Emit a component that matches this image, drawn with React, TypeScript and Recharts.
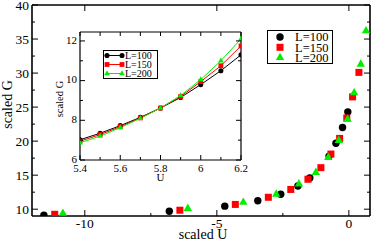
import React from 'react';
import { ScatterChart, Scatter, XAxis, YAxis, LineChart, Line, Legend } from 'recharts';

// ---------- data ----------
const seriesNames = ['L=100', 'L=150', 'L=200'];
const seriesColors = ['#000000', '#ff0000', '#00ee00'];

const u100 = [-11.55, -6.8, -4.7, -3.45, -2.58, -1.93, -1.48, -0.75, -0.49, -0.24, -0.04];
const g100 = [9.1, 9.7, 10.45, 11.25, 12.2, 13.4, 14.6, 17.8, 19.7, 22.0, 24.3];
const u150 = [-11.14, -6.4, -4.3, -3.05, -2.2, -1.55, -1.06, -0.68, -0.35, -0.08, 0.14, 0.38];
const g150 = [9.25, 9.85, 10.7, 11.75, 12.9, 14.4, 16.1, 18.1, 20.4, 23.4, 26.5, 30.1];
const u200 = [-10.83, -6.1, -4.0, -2.75, -1.89, -1.25, -0.78, -0.38, -0.05, 0.2, 0.45, 0.65];
const g200 = [9.4, 10.1, 11.0, 12.2, 13.7, 15.4, 17.6, 20.1, 23.2, 27.1, 31.3, 36.2];

const mainXTicks = [-10, -7.5, -5, -2.5, 0];
const mainXTopTicks = [-10, -5, 0];
const mainYTicks = [10, 12.5, 15, 17.5, 20, 22.5, 25, 27.5, 30, 32.5, 35, 37.5, 40];

const insetU = [5.4, 5.5, 5.6, 5.7, 5.8, 5.9, 6.0, 6.1, 6.2];
const insetL100 = [7.02, 7.35, 7.73, 8.15, 8.62, 9.15, 9.8, 10.5, 11.3];
const insetL150 = [6.95, 7.28, 7.68, 8.12, 8.62, 9.2, 9.95, 10.75, 11.75];
const insetL200 = [6.87, 7.2, 7.63, 8.1, 8.62, 9.25, 10.05, 11.0, 12.1];

const insetXTicks = [5.4, 5.5, 5.6, 5.7, 5.8, 5.9, 6.0, 6.1, 6.2];
const insetXLabels = ['5.4', '5.6', '5.8', '6', '6.2'];
const insetYTicks = [6, 7, 8, 9, 10, 11, 12];
const insetYLabels = [6, 8, 10, 12];

// ---------- built tables ----------
const mainSeries = [
  u100.map((u, i) => ({ u, g: g100[i] })),
  u150.map((u, i) => ({ u, g: g150[i] })),
  u200.map((u, i) => ({ u, g: g200[i] })),
];
const insetData = insetU.map((u, i) => ({ u, a: insetL100[i], b: insetL150[i], c: insetL200[i] }));

const FONT = 'Liberation Serif, Times New Roman, serif';

// ---------- markers ----------
const Marker = ({ kind, cx, cy, s }: { kind: number; cx: number; cy: number; s: number }) => {
  const color = seriesColors[kind];
  if (kind === 0) return <circle cx={cx} cy={cy} r={s * 0.53} fill={color} />;
  if (kind === 1) return <rect x={cx - s / 2} y={cy - s / 2} width={s} height={s} fill={color} />;
  const w = s * 1.2;
  const h = s * 1.05;
  return (
    <polygon
      points={`${cx},${cy - (h * 2) / 3} ${cx - w / 2},${cy + h / 3} ${cx + w / 2},${cy + h / 3}`}
      fill={color}
    />
  );
};

// ---------- ticks ----------
const isMult = (v: number, m: number) => Math.abs(v / m - Math.round(v / m)) < 1e-6;

const MainBottomTick = (p: any) => {
  const { x, y, payload } = p;
  const v = payload.value;
  const major = isMult(v, 5);
  return (
    <g>
      <line x1={x} x2={x} y1={y} y2={y - (major ? 6 : 3)} stroke="#000" strokeWidth={1} />
      {major && (
        <text x={x} y={y + 11.5} textAnchor="middle" fontSize={13.5} fontFamily={FONT} fill="#000">
          {String(v)}
        </text>
      )}
    </g>
  );
};
const MainTopTick = (p: any) => {
  const { x, y } = p;
  return <line x1={x} x2={x} y1={y} y2={y + 6} stroke="#000" strokeWidth={1} />;
};
const MainLeftTick = (p: any) => {
  const { x, y, payload } = p;
  const v = payload.value;
  const major = isMult(v, 5);
  return (
    <g>
      <line x1={x} x2={x + (major ? 6 : 3)} y1={y} y2={y} stroke="#000" strokeWidth={1} />
      {major && (
        <text x={x - 3} y={y + 0.5} dy="0.35em" textAnchor="end" fontSize={13.5} fontFamily={FONT} fill="#000">
          {String(v)}
        </text>
      )}
    </g>
  );
};
const MainRightTick = (p: any) => {
  const { x, y, payload } = p;
  const major = isMult(payload.value, 5);
  return <line x1={x} x2={x - (major ? 6 : 3)} y1={y} y2={y} stroke="#000" strokeWidth={1} />;
};

const InsetBottomTick = (p: any) => {
  const { x, y, payload } = p;
  const v = payload.value;
  const idx = insetXTicks.findIndex((t) => Math.abs(t - v) < 1e-6);
  const major = idx % 2 === 0;
  return (
    <g>
      <line x1={x} x2={x} y1={y} y2={y - (major ? 5 : 3)} stroke="#000" strokeWidth={1} />
      {major && (
        <text x={x} y={y + 12} textAnchor="middle" fontSize={11} fontFamily={FONT} fill="#000">
          {insetXLabels[idx / 2]}
        </text>
      )}
    </g>
  );
};
const InsetTopTick = (p: any) => {
  const { x, y } = p;
  return <line x1={x} x2={x} y1={y} y2={y + 4} stroke="#000" strokeWidth={1} />;
};
const InsetLeftTick = (p: any) => {
  const { x, y, payload } = p;
  const v = payload.value;
  const major = insetYLabels.includes(v);
  return (
    <g>
      <line x1={x} x2={x + (major ? 5 : 3)} y1={y} y2={y} stroke="#000" strokeWidth={1} />
      {major && (
        <text x={x - 3} y={y - 1} dy="0.35em" textAnchor="end" fontSize={11} fontFamily={FONT} fill="#000">
          {String(v)}
        </text>
      )}
    </g>
  );
};
const InsetRightTick = (p: any) => {
  const { x, y, payload } = p;
  const major = insetYLabels.includes(payload.value);
  return <line x1={x} x2={x - (major ? 5 : 3)} y1={y} y2={y} stroke="#000" strokeWidth={1} />;
};

// ---------- legends ----------
const MainLegend = (props: any) => {
  const payload = props.payload || [];
  return (
    <svg width={66} height={34} style={{ display: 'block', overflow: 'visible' }}>
      <rect x={0.5} y={0.5} width={65} height={33} fill="#fff" stroke="#000" strokeWidth={1} />
      {payload.map((e: any, i: number) => {
        const k = seriesNames.indexOf(e.value);
        const cy = 7 + k * 10.3;
        return (
          <g key={i}>
            <Marker kind={k} cx={13} cy={cy} s={7} />
            <text x={28} y={cy} dy="0.35em" fontSize={12.5} fontFamily={FONT} fill="#000">
              {e.value}
            </text>
          </g>
        );
      })}
    </svg>
  );
};

const InsetLegend = (props: any) => {
  const payload = props.payload || [];
  return (
    <svg width={55} height={29} style={{ display: 'block', overflow: 'visible' }}>
      <rect x={0.5} y={0.5} width={54} height={28} fill="#fff" stroke="#000" strokeWidth={1} />
      {payload.map((e: any, i: number) => {
        const k = seriesNames.indexOf(e.value);
        const cy = 5.5 + k * 9;
        return (
          <g key={i}>
            <line x1={4} x2={19} y1={cy} y2={cy} stroke={seriesColors[k]} strokeWidth={1} />
            <Marker kind={k} cx={4} cy={cy} s={4.8} />
            <Marker kind={k} cx={19} cy={cy} s={4.8} />
            <text x={22} y={cy} dy="0.35em" fontSize={10} fontFamily={FONT} fill="#000">
              {e.value}
            </text>
          </g>
        );
      })}
    </svg>
  );
};

// ---------- labels ----------
const MainYLabel = (p: any) => {
  const vb = p.viewBox || { x: 0, y: 5, width: 32, height: 211 };
  const cx = 12;
  const cy = vb.y + vb.height / 2 - 6;
  return (
    <text x={cx} y={cy} transform={`rotate(-90 ${cx} ${cy})`} textAnchor="middle" fontSize={14} fontFamily={FONT} fill="#000">
      scaled G
    </text>
  );
};
const MainXLabel = (p: any) => {
  const vb = p.viewBox || { x: 32, y: 216, width: 338, height: 24 };
  return (
    <text x={vb.x + vb.width / 2 + 2} y={238.5} textAnchor="middle" fontSize={14} fontFamily={FONT} fill="#000">
      scaled U
    </text>
  );
};
const InsetYLabel = (p: any) => {
  const vb = p.viewBox || { x: 0, y: 32, width: 80, height: 128 };
  const cx = 63;
  const cy = vb.y + vb.height / 2 + 3;
  return (
    <text x={cx} y={cy} transform={`rotate(-90 ${cx} ${cy})`} textAnchor="middle" fontSize={10.5} fontFamily={FONT} fill="#000">
      scaled G
    </text>
  );
};
const InsetXLabel = (p: any) => {
  const vb = p.viewBox || { x: 80, y: 160, width: 161, height: 40 };
  return (
    <text x={vb.x + vb.width / 2} y={181} textAnchor="middle" fontSize={11} fontFamily={FONT} fill="#000">
      U
    </text>
  );
};

const axisLineMain = { stroke: '#000', strokeWidth: 1.6 };
const axisLineInset = { stroke: '#000', strokeWidth: 1.2 };

export default function App() {
  return (
    <div style={{ position: 'absolute', left: 0, top: 0, width: 371, height: 240, background: '#fff' }}>
      <div style={{ position: 'absolute', left: 0, top: 0 }}>
        <ScatterChart width={371} height={240} margin={{ top: 4, right: 0, bottom: 0, left: 0 }}>
          <XAxis
            xAxisId="b"
            type="number"
            dataKey="u"
            domain={[-12, 0.8]}
            allowDataOverflow
            ticks={mainXTicks}
            interval={0}
            height={24}
            tickSize={0}
            tickMargin={0}
            tickLine={false}
            axisLine={axisLineMain}
            tick={MainBottomTick}
            label={MainXLabel}
          />
          <XAxis
            xAxisId="t"
            orientation="top"
            type="number"
            dataKey="u"
            domain={[-12, 0.8]}
            allowDataOverflow
            ticks={mainXTopTicks}
            interval={0}
            height={1}
            tickSize={0}
            tickMargin={0}
            tickLine={false}
            axisLine={axisLineMain}
            tick={MainTopTick}
          />
          <YAxis
            yAxisId="l"
            type="number"
            dataKey="g"
            domain={[9, 40]}
            allowDataOverflow
            ticks={mainYTicks}
            interval={0}
            width={32}
            tickSize={0}
            tickMargin={0}
            tickLine={false}
            axisLine={axisLineMain}
            tick={MainLeftTick}
            label={MainYLabel}
          />
          <YAxis
            yAxisId="r"
            orientation="right"
            type="number"
            dataKey="g"
            domain={[9, 40]}
            allowDataOverflow
            ticks={mainYTicks}
            interval={0}
            width={1}
            tickSize={0}
            tickMargin={0}
            tickLine={false}
            axisLine={axisLineMain}
            tick={MainRightTick}
          />
          {mainSeries.map((d, k) => (
            <Scatter
              key={k}
              name={seriesNames[k]}
              data={d}
              xAxisId="b"
              yAxisId="l"
              fill={seriesColors[k]}
              isAnimationActive={false}
              shape={(p: any) => <Marker kind={k} cx={p.cx} cy={p.cy} s={7} />}
            />
          ))}
          <Legend
            verticalAlign="middle"
            align="center"
            content={MainLegend}
            wrapperStyle={{ position: 'absolute', left: 267, top: 30, width: 66, height: 34 }}
          />
        </ScatterChart>
      </div>
      <div style={{ position: 'absolute', left: 0, top: 0 }}>
        <LineChart width={250} height={200} data={insetData} margin={{ top: 31, right: 8, bottom: 0, left: 0 }}>
          <XAxis
            xAxisId="b"
            type="number"
            dataKey="u"
            domain={[5.4, 6.2]}
            allowDataOverflow
            ticks={insetXTicks}
            interval={0}
            height={40}
            tickSize={0}
            tickMargin={0}
            tickLine={false}
            axisLine={axisLineInset}
            tick={InsetBottomTick}
            label={InsetXLabel}
          />
          <XAxis
            xAxisId="t"
            orientation="top"
            type="number"
            dataKey="u"
            domain={[5.4, 6.2]}
            allowDataOverflow
            ticks={insetXTicks}
            interval={0}
            height={1}
            tickSize={0}
            tickMargin={0}
            tickLine={false}
            axisLine={axisLineInset}
            tick={InsetTopTick}
          />
          <YAxis
            yAxisId="l"
            type="number"
            domain={[6, 12.45]}
            allowDataOverflow
            ticks={insetYTicks}
            interval={0}
            width={80}
            tickSize={0}
            tickMargin={0}
            tickLine={false}
            axisLine={axisLineInset}
            tick={InsetLeftTick}
            label={InsetYLabel}
          />
          <YAxis
            yAxisId="r"
            orientation="right"
            type="number"
            domain={[6, 12.45]}
            allowDataOverflow
            ticks={insetYTicks}
            interval={0}
            width={1}
            tickSize={0}
            tickMargin={0}
            tickLine={false}
            axisLine={axisLineInset}
            tick={InsetRightTick}
          />
          {(['a', 'b', 'c'] as const).map((key, k) => (
            <Line
              key={key}
              name={seriesNames[k]}
              dataKey={key}
              xAxisId="b"
              yAxisId="l"
              stroke={seriesColors[k]}
              strokeWidth={1}
              isAnimationActive={false}
              dot={(p: any) => <Marker key={`${key}-${p.index}`} kind={k} cx={p.cx} cy={p.cy} s={4.8} />}
              activeDot={false}
            />
          ))}
          <Legend
            verticalAlign="middle"
            align="center"
            content={InsetLegend}
            wrapperStyle={{ position: 'absolute', left: 103, top: 50, width: 55, height: 29 }}
          />
        </LineChart>
      </div>
    </div>
  );
}
